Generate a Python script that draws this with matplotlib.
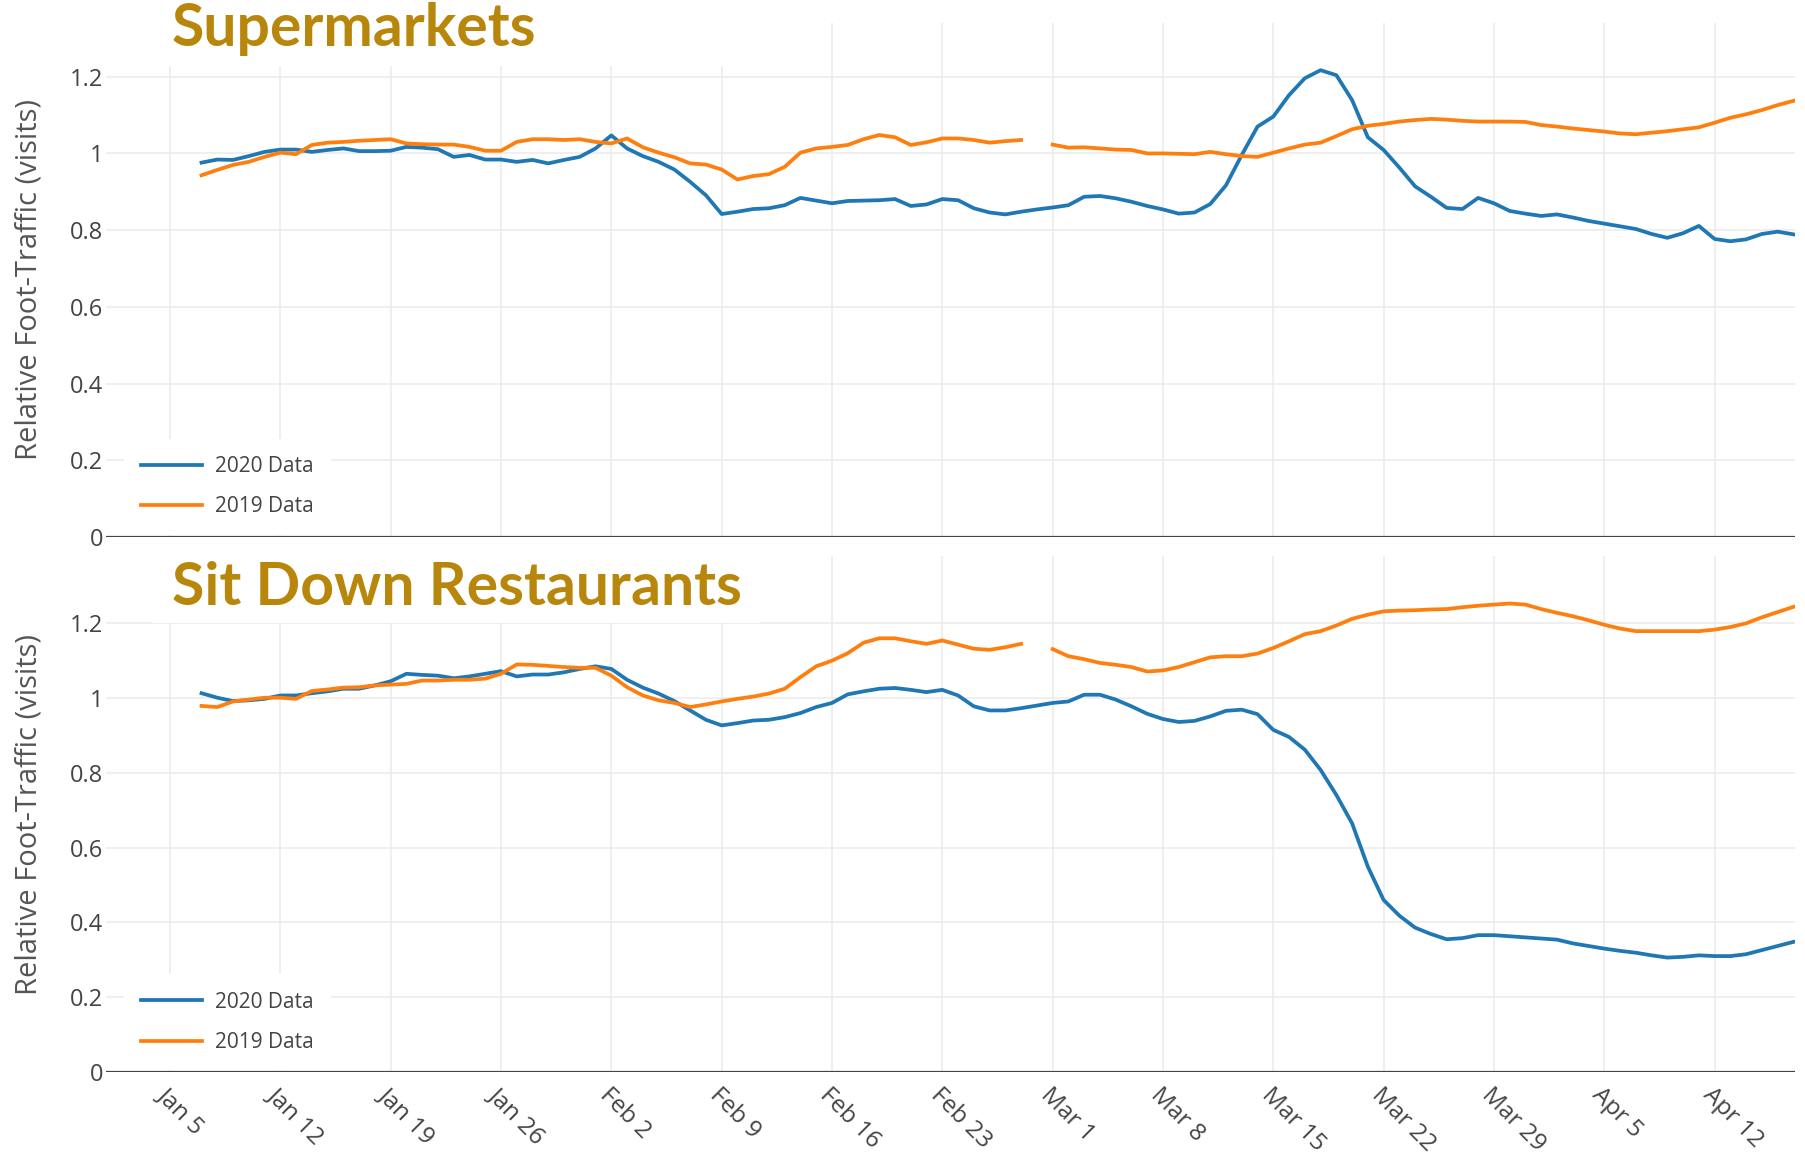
import numpy as np
import pandas as pd
import matplotlib
matplotlib.use("Agg")
import matplotlib.pyplot as plt
from matplotlib.patches import Rectangle


OUT_FILE = "out.png"

# ====== DATA (one value per day) ======
FIRST_DAY = "2020-01-07"
LAST_DAY = "2020-04-17"

SERIES_LABELS = ["2020 Data", "2019 Data"]
PANEL_TITLES = ["Supermarkets", "Sit Down Restaurants"]
Y_LABEL = "Relative Foot-Traffic (visits)"

# Supermarkets
SUPER_2020 = [
    0.976, 0.984, 0.983, 0.993, 1.004, 1.010, 1.010, 1.004, 1.009, 1.013,  # Jan 7-16
    1.006, 1.006, 1.007, 1.017, 1.015, 1.011, 0.991, 0.996, 0.984, 0.984,  # Jan 17-26
    0.978, 0.983, 0.974, 0.983, 0.991,                                     # Jan 27-31
    1.013, 1.047, 1.013, 0.993, 0.978, 0.958, 0.926, 0.891, 0.842, 0.848,  # Feb 1-10
    0.855, 0.857, 0.865, 0.884, 0.877, 0.870, 0.876, 0.877, 0.878, 0.881,  # Feb 11-20
    0.863, 0.867, 0.881, 0.878, 0.857, 0.846, 0.841, 0.848, 0.854,         # Feb 21-29
    0.859, 0.865, 0.887, 0.889, 0.883, 0.874, 0.863, 0.854, 0.843, 0.846,  # Mar 1-10
    0.868, 0.917, 0.996, 1.070, 1.096, 1.152, 1.196, 1.217, 1.204, 1.139,  # Mar 11-20
    1.042, 1.009, 0.963, 0.914, 0.887, 0.858, 0.855, 0.884, 0.870, 0.850,  # Mar 21-30
    0.843,                                                                 # Mar 31
    0.837, 0.841, 0.833, 0.824, 0.817, 0.810, 0.803, 0.790, 0.780, 0.792,  # Apr 1-10
    0.811, 0.777, 0.771, 0.776, 0.790, 0.796, 0.789,                       # Apr 11-17
]
SUPER_2019 = [
    0.943, 0.957, 0.970, 0.978, 0.991, 1.002, 0.998, 1.022, 1.028, 1.030,
    1.033, 1.035, 1.037, 1.026, 1.024, 1.023, 1.023, 1.017, 1.007, 1.007,
    1.030, 1.037, 1.037, 1.035, 1.037,
    1.030, 1.026, 1.039, 1.016, 1.002, 0.990, 0.974, 0.971, 0.958, 0.932,
    0.941, 0.946, 0.965, 1.002, 1.013, 1.017, 1.022, 1.037, 1.048, 1.042,
    1.022, 1.029, 1.039, 1.039, 1.035, 1.028, 1.032, 1.035, np.nan,
    1.023, 1.015, 1.016, 1.013, 1.010, 1.009, 1.000, 1.000, 0.999, 0.998,
    1.004, 0.998, 0.993, 0.991, 1.002, 1.013, 1.023, 1.028, 1.045, 1.063,
    1.072, 1.077, 1.083, 1.087, 1.090, 1.088, 1.085, 1.083, 1.083, 1.083,
    1.082,
    1.074, 1.070, 1.065, 1.061, 1.057, 1.052, 1.050, 1.054, 1.058, 1.063,
    1.068, 1.080, 1.093, 1.102, 1.113, 1.126, 1.137,
]

# Sit down restaurants
REST_2020 = [
    1.013, 1.001, 0.992, 0.994, 0.998, 1.007, 1.007, 1.013, 1.018, 1.025,
    1.025, 1.034, 1.045, 1.065, 1.062, 1.060, 1.053, 1.058, 1.065, 1.072,
    1.058, 1.063, 1.063, 1.069, 1.078,
    1.085, 1.078, 1.049, 1.028, 1.012, 0.992, 0.967, 0.942, 0.927, 0.933,
    0.940, 0.942, 0.949, 0.960, 0.976, 0.987, 1.010, 1.018, 1.025, 1.027,
    1.022, 1.016, 1.022, 1.007, 0.978, 0.967, 0.967, 0.973, 0.980,
    0.987, 0.991, 1.009, 1.009, 0.996, 0.978, 0.958, 0.944, 0.936, 0.939,
    0.951, 0.966, 0.969, 0.957, 0.915, 0.896, 0.862, 0.808, 0.741, 0.665,
    0.549, 0.460, 0.418, 0.386, 0.369, 0.355, 0.358, 0.366, 0.366, 0.363,
    0.360,
    0.357, 0.354, 0.344, 0.337, 0.330, 0.324, 0.319, 0.312, 0.306, 0.308,
    0.312, 0.310, 0.310, 0.315, 0.326, 0.337, 0.348,
]
REST_2019 = [
    0.979, 0.976, 0.991, 0.996, 1.001, 1.001, 0.998, 1.019, 1.023, 1.028,
    1.029, 1.034, 1.036, 1.038, 1.047, 1.047, 1.049, 1.049, 1.052, 1.065,
    1.090, 1.089, 1.086, 1.083, 1.081,
    1.081, 1.060, 1.029, 1.007, 0.994, 0.987, 0.976, 0.983, 0.991, 0.998,
    1.004, 1.012, 1.025, 1.056, 1.085, 1.100, 1.120, 1.148, 1.160, 1.160,
    1.152, 1.145, 1.154, 1.143, 1.132, 1.129, 1.136, 1.145, np.nan,
    1.131, 1.112, 1.104, 1.094, 1.089, 1.083, 1.071, 1.074, 1.083, 1.096,
    1.109, 1.112, 1.112, 1.119, 1.134, 1.152, 1.171, 1.179, 1.194, 1.212,
    1.223, 1.232, 1.234, 1.235, 1.237, 1.238, 1.243, 1.247, 1.250, 1.253,
    1.250,
    1.238, 1.228, 1.219, 1.208, 1.196, 1.186, 1.179, 1.179, 1.179, 1.179,
    1.179, 1.183, 1.190, 1.200, 1.216, 1.230, 1.244,
]

TICK_LABELS = ["Jan 5", "Jan 12", "Jan 19", "Jan 26", "Feb 2", "Feb 9",
               "Feb 16", "Feb 23", "Mar 1", "Mar 8", "Mar 15", "Mar 22",
               "Mar 29", "Apr 5", "Apr 12"]
Y_TICKS = [0, 0.2, 0.4, 0.6, 0.8, 1.0, 1.2]
Y_TICK_LABELS = ["0", "0.2", "0.4", "0.6", "0.8", "1", "1.2"]

# ====== STYLE ======
W, H = 1806, 1161
BLUE = "#1f77b4"
ORANGE = "#ff7f0e"
TITLE_COLOR = "#b8860b"
TEXT_COLOR = "#444444"
LABEL_COLOR = "#555555"
GRID_COLOR = "#ebebeb"
FONT = "Open Sans"
TITLE_FONT = "Lato"
TICK_SIZE = 17
LEGEND_SIZE = 15


def px_box(left, top, right, bottom):
    # pixel box (origin top-left) -> figure fraction [l, b, w, h]
    return [left / W, 1 - bottom / H, (right - left) / W, (bottom - top) / H]


def style_axes(ax, ymax, show_xlabels):
    x0 = pd.Timestamp("2020-01-05") - pd.Timedelta(days=4.06)
    x1 = pd.Timestamp(LAST_DAY) + pd.Timedelta(days=0.1)
    ax.set_xlim(x0, x1)
    ax.set_ylim(0, ymax)

    for s in ax.spines.values():
        s.set_visible(False)

    ticks = [pd.to_datetime(t + " 2020", format="%b %d %Y") for t in TICK_LABELS]
    ax.set_xticks(ticks)
    if show_xlabels:
        ax.set_xticklabels(TICK_LABELS, rotation=-45, ha="left", va="top",
                           rotation_mode="anchor", fontsize=TICK_SIZE + 0.5,
                           color=TEXT_COLOR, family=FONT)
    else:
        ax.set_xticklabels([])
    ax.set_yticks(Y_TICKS)
    ax.set_yticklabels(Y_TICK_LABELS, fontsize=TICK_SIZE, color=TEXT_COLOR,
                       family=FONT)
    ax.tick_params(axis="both", length=0)
    ax.tick_params(axis="x", pad=8)
    ax.tick_params(axis="y", pad=2)

    ax.set_axisbelow(True)
    ax.grid(True, color=GRID_COLOR, linewidth=1.1)
    ax.axhline(0, color=TEXT_COLOR, linewidth=1.6, zorder=1.2)

    ax.set_ylabel(Y_LABEL, fontsize=21, color=LABEL_COLOR, family=FONT)
    ax.yaxis.set_label_coords(-0.037, 0.5)


def draw_panel(ax, dates, y2020, y2019, legend_y):
    l20, = ax.plot(dates, y2020, color=BLUE, linewidth=2.7, zorder=2)
    l19, = ax.plot(dates, y2019, color=ORANGE, linewidth=2.7, zorder=2)

    leg = ax.legend([l20, l19], SERIES_LABELS, loc="lower left",
                    bbox_to_anchor=(0.0104, legend_y), borderaxespad=0,
                    frameon=True, fancybox=False, framealpha=1,
                    facecolor="white", edgecolor="none",
                    prop={"family": FONT, "size": LEGEND_SIZE},
                    borderpad=0.84, handlelength=2.93, handletextpad=0.62,
                    labelspacing=0.92)
    for txt in leg.get_texts():
        txt.set_color(TEXT_COLOR)
    leg.set_zorder(5)


def title_mask(ax, y_frac):
    # white box behind the panel title, hides the grid there
    x0 = (152 - 106) / (1795 - 106)
    x1 = (760 - 106) / (1795 - 106)
    ax.add_patch(Rectangle((x0, y_frac), x1 - x0, 1 - y_frac,
                           transform=ax.transAxes, facecolor="white",
                           edgecolor="none", zorder=1, clip_on=False))


def add_titles(fig):
    # titles sized so their width matches the reference
    specs = [(PANEL_TITLES[0], 46, 366), (PANEL_TITLES[1], 605, 566)]
    texts = []
    for label, base, _ in specs:
        t = fig.text(172 / W, 1 - base / H, label, family=TITLE_FONT,
                     fontweight="bold", color=TITLE_COLOR, fontsize=40,
                     ha="left", va="baseline", zorder=6)
        texts.append(t)
    renderer = fig.canvas.get_renderer()
    sizes = []
    for t, (_, _, target) in zip(texts, specs):
        w = t.get_window_extent(renderer).width
        sizes.append(40 * target / w)
    size = float(np.mean(sizes))
    for t in texts:
        t.set_fontsize(size)


def main():
    dates = pd.date_range(FIRST_DAY, LAST_DAY, freq="D")

    fig = plt.figure(figsize=(W / 100, H / 100), dpi=100)
    ax_top = fig.add_axes(px_box(106, 23, 1795, 537))
    ax_bot = fig.add_axes(px_box(106, 556, 1795, 1072))

    style_axes(ax_top, 1.34, show_xlabels=False)
    style_axes(ax_bot, 1.38, show_xlabels=True)

    draw_panel(ax_top, dates, SUPER_2020, SUPER_2019, 0.0042)
    draw_panel(ax_bot, dates, REST_2020, REST_2019, 0.003)

    title_mask(ax_top, (537 - 66) / (537 - 23))
    title_mask(ax_bot, (1072 - 623) / (1072 - 556))
    add_titles(fig)

    fig.savefig(OUT_FILE, dpi=100, facecolor="white")
    plt.close(fig)


if __name__ == "__main__":
    main()
